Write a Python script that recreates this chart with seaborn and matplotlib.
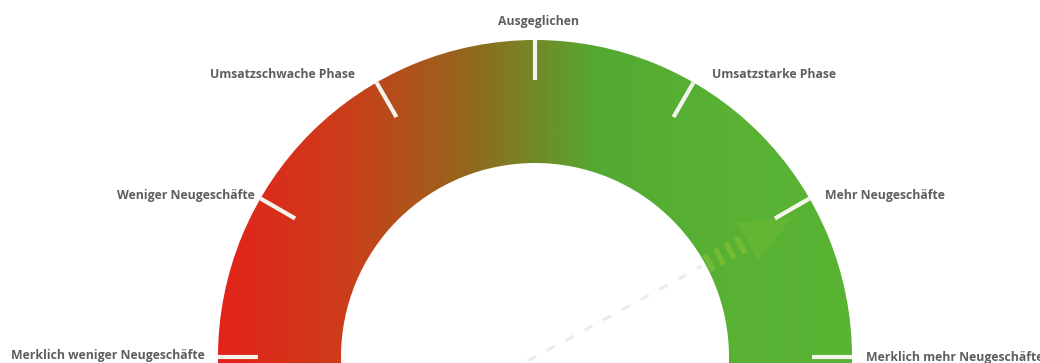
import numpy as np
import matplotlib
matplotlib.use('Agg')
import matplotlib.pyplot as plt
from matplotlib.patches import Wedge, Polygon
import seaborn as sns

# gauge scale: 0 = far left, 6 = far right
labels = ['Merklich weniger Neugeschäfte', 'Weniger Neugeschäfte', 'Umsatzschwache Phase',
          'Ausgeglichen', 'Umsatzstarke Phase', 'Mehr Neugeschäfte', 'Merklich mehr Neugeschäfte']
steps = [0, 1, 2, 3, 4, 5, 6]
needle_value = 5.05
gradient_colors = ['#e3231a', '#cc3d1a', '#92681e', '#53aa32', '#58b133', '#5ab433']

sns.set_style('white')
plt.rcParams['font.family'] = ['Open Sans', 'DejaVu Sans']

cx, cy = 535, 357
r_out, r_in = 317, 194
tick_len = 40

def ang(v):
    return np.deg2rad(180 - v * 30)

fig = plt.figure(figsize=(10.4, 3.63), dpi=100)
ax = fig.add_axes([0, 0, 1, 1])
ax.axis('off')

# annulus with horizontal gradient
cmap = sns.blend_palette(gradient_colors, n_colors=256, as_cmap=True)
ring = Wedge((cx, cy), r_out, 0, 360, width=r_out - r_in, facecolor='none', edgecolor='none')
ax.add_patch(ring)
grad = np.linspace(0, 1, 512)[None, :]
im = ax.imshow(grad, cmap=cmap, extent=(cx - r_out, cx + r_out, cy + r_out, cy - r_out),
               aspect='auto', zorder=1)
im.set_clip_path(ring)
ax.set_xlim(0, 1040)
ax.set_ylim(363, 0)

# ticks
for s in steps:
    a = ang(s)
    x0, y0 = cx + r_out * np.cos(a), cy - r_out * np.sin(a)
    x1, y1 = cx + (r_out - tick_len) * np.cos(a), cy - (r_out - tick_len) * np.sin(a)
    ax.plot([x0, x1], [y0, y1], color='#f4f4ec', lw=3, solid_capstyle='butt', zorder=3)

# labels
label_pos = [(205, 355, 'right'), (255, 195, 'right'), (355, 75, 'right'), (538, 21, 'center'),
             (712, 75, 'left'), (825, 195, 'left'), (866, 357, 'left')]
for lab, (x, y, ha) in zip(labels, label_pos):
    ax.text(x, y, lab, ha=ha, va='center', fontsize=8.8, fontweight='bold', color='#5e5e5e', zorder=4)

# needle
a = ang(needle_value)
ux, uy = np.cos(a), -np.sin(a)
px, py = -uy, ux
ax.plot([cx - 8 * ux, cx + 190 * ux], [cy - 8 * uy, cy + 190 * uy], color='#ebebeb', lw=2.2,
        dashes=(3, 4), zorder=2)
for r in [198, 210, 222, 234]:
    ax.plot([cx + r * ux - 9 * px, cx + r * ux + 9 * px], [cy + r * uy - 9 * py, cy + r * uy + 9 * py],
            color='#9ccc3a', lw=4, alpha=0.4, solid_capstyle='butt', zorder=2)
base = 242
tip = 292
head = [(cx + base * ux - 22 * px, cy + base * uy - 22 * py),
        (cx + base * ux + 22 * px, cy + base * uy + 22 * py),
        (cx + tip * ux, cy + tip * uy)]
ax.add_patch(Polygon(head, closed=True, facecolor='#8cc83a', edgecolor='none', alpha=0.22, zorder=2))

fig.savefig('out.png', dpi=100)
